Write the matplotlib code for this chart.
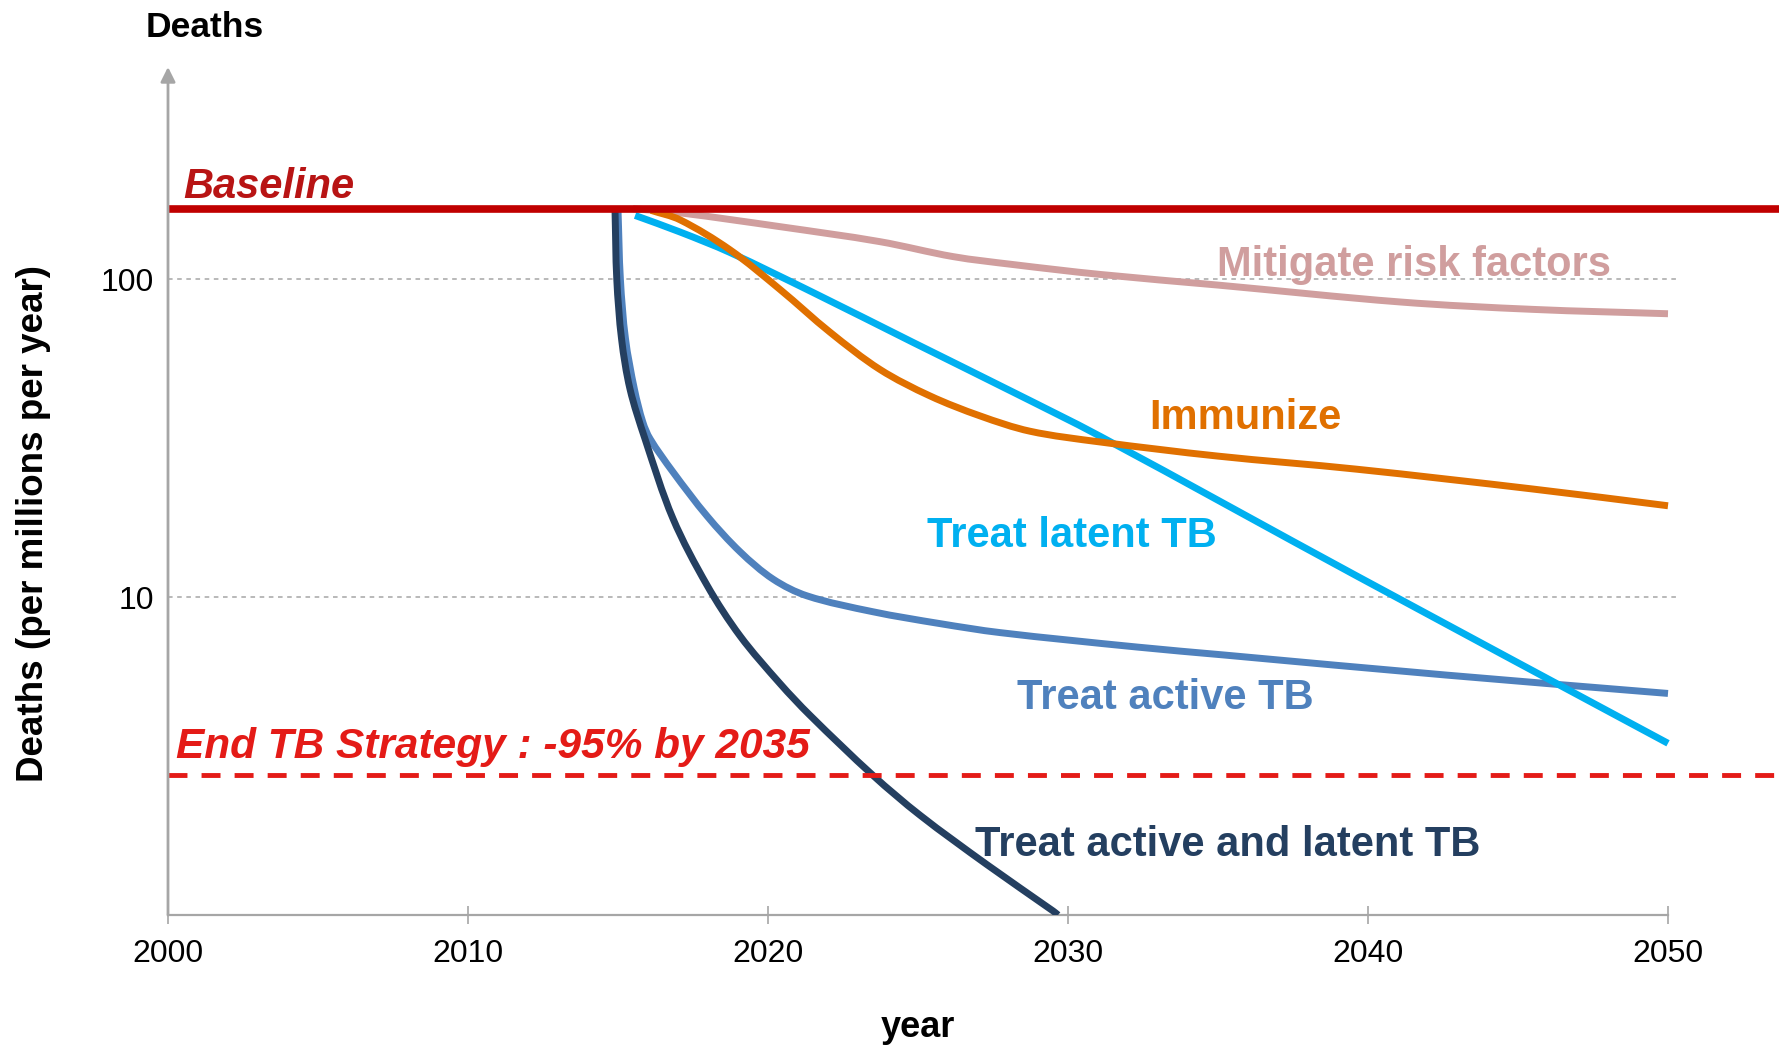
import numpy as np
import matplotlib.pyplot as plt
from matplotlib.path import Path
from matplotlib.patches import PathPatch

plt.rcParams['font.family'] = ['Liberation Sans', 'DejaVu Sans']

# values (year, deaths per million per year)
baseline_value = 167
target_value = 2.75

mitigate_years = [2015.5, 2017.07, 2020.4, 2023.73, 2026.17, 2028.17, 2031.07, 2035.0,
                  2041.1, 2045.5, 2050.0]
mitigate_vals = [167, 162, 146.6, 131.5, 118, 111.4, 103.7, 96, 84.9, 80.5, 78.0]

immunize_years = [2016.1, 2017.07, 2018.73, 2020.4, 2022.07, 2023.73, 2025.4, 2027.07,
                  2028.73, 2031.07, 2035.0, 2039.6, 2045.5, 2050.0]
immunize_vals = [165, 154, 124, 93, 68.2, 52.1, 43, 37.2,
                 33.3, 30.8, 27.8, 25.3, 21.9, 19.4]

latent_years = [2015.57, 2017.07, 2018.73, 2021.5, 2024.83, 2028.17, 2031.07, 2039.6, 2050.0]
latent_vals = [159, 141, 121.6, 91, 63.4, 44.2, 32.1, 11.7, 3.47]

active_years = [2015.0, 2015.08, 2015.25, 2015.55, 2015.83, 2016.07, 2016.83, 2017.97,
                2019.07, 2020.17, 2021.3, 2023.5, 2025.73, 2027.73, 2032.3, 2035.2,
                2042.6, 2050.0]
active_vals = [166, 100, 65, 45, 35.5, 31.5, 24.8, 18.0,
               13.9, 11.4, 10.1, 9.0, 8.26, 7.74, 6.97, 6.58,
               5.69, 4.98]

both_years = [2014.9, 2014.96, 2015.12, 2015.4, 2015.9, 2016.83, 2017.97, 2019.07,
              2020.4, 2021.4, 2023.5, 2025.07, 2027.3, 2029.5, 2029.67]
both_vals = [166, 100, 64.8, 45.2, 31.5, 17.7, 10.9, 7.55,
             5.35, 4.25, 2.75, 2.06, 1.44, 1.03, 1.0]

x_ticks = [2000, 2010, 2020, 2030, 2040, 2050]
y_ticks = [10, 100]

grey = '#A6A6A6'
c_base = '#C00000'
c_target = '#E41B17'
c_mitigate = '#D09E9E'
c_immunize = '#E07000'
c_latent = '#00B0F0'
c_active = '#4F81BD'
c_both = '#243F60'


def smooth_line(ax, xs, ys, color, lw, zorder):
    # smoothed line like the spreadsheet's, Bezier pieces through the read points
    # (built in year / log10 space, so the log axis maps it straight)
    p = np.column_stack([xs, np.log10(ys)])
    scale = np.array([30.0, 318.6])
    n = len(p)
    d = np.sqrt((((p[1:] - p[:-1]) * scale) ** 2).sum(axis=1))
    t = np.concatenate([[0], np.cumsum(d)])
    m = np.zeros_like(p)
    for i in range(n):
        a, b = max(i - 1, 0), min(i + 1, n - 1)
        m[i] = (p[b] - p[a]) / (t[b] - t[a])
    verts = [p[0]]
    codes = [Path.MOVETO]
    for i in range(n - 1):
        h = t[i + 1] - t[i]
        verts += [p[i] + m[i] * h / 3, p[i + 1] - m[i + 1] * h / 3, p[i + 1]]
        codes += [Path.CURVE4] * 3
    verts = np.array(verts)
    verts[:, 1] = 10 ** verts[:, 1]
    ax.add_patch(PathPatch(Path(verts, codes), fill=False, edgecolor=color,
                           lw=lw, zorder=zorder, capstyle='butt'))


W, H = 1784, 1046
fig = plt.figure(figsize=(W / 100, H / 100), dpi=100)
ax = fig.add_axes([168 / W, 1 - 915 / H, (W - 168) / W, (915 - 67) / H])
ax.set_yscale('log')
ax.set_xlim(2000, 2000 + (W - 168) / 30)
ax.set_ylim(1, 10 ** (2 + (280 - 67) / 318.6))

for v in y_ticks:
    ax.plot([2000, 2050.4], [v, v], color=grey, lw=1.1, dashes=(3, 3), zorder=1)

lw = 5
smooth_line(ax, mitigate_years, mitigate_vals, c_mitigate, lw, 2)
smooth_line(ax, active_years, active_vals, c_active, lw, 3)
smooth_line(ax, latent_years, latent_vals, c_latent, lw, 4)
smooth_line(ax, immunize_years, immunize_vals, c_immunize, lw, 5)
smooth_line(ax, both_years, both_vals, c_both, lw, 6)

ax.plot([2000, 2053.7], [baseline_value, baseline_value], color=c_base, lw=5.5,
        solid_capstyle='butt', zorder=8)
ax.plot([2000, 2053.7], [target_value, target_value], color=c_target, lw=3.5,
        dashes=(3.9, 2.9), dash_capstyle='butt', zorder=8)

# axes styling
for s in ['top', 'right', 'left']:
    ax.spines[s].set_visible(False)
ax.spines['bottom'].set_color(grey)
ax.spines['bottom'].set_linewidth(1.6)
ax.spines['bottom'].set_bounds(2000, 2050)
ax.annotate('', xy=(0, 1), xytext=(0, 0), xycoords='axes fraction',
            arrowprops=dict(arrowstyle='-|>', color=grey, lw=2, mutation_scale=22,
                            shrinkA=0, shrinkB=0), zorder=9)

ax.set_xticks(x_ticks)
ax.set_xticklabels([str(t) for t in x_ticks])
ax.set_yticks(y_ticks)
ax.set_yticklabels([str(t) for t in y_ticks])
ax.yaxis.set_minor_locator(plt.NullLocator())
ax.xaxis.set_minor_locator(plt.NullLocator())
ax.tick_params(axis='x', direction='inout', length=13, width=1.2, color=grey,
               labelsize=23, pad=11)
ax.tick_params(axis='y', length=0, labelsize=23, pad=10)

# curve labels
lab = dict(fontsize=30, fontweight='bold', ha='left', va='baseline', zorder=10)
ax.text(2000.5, 180.7, 'Baseline', color='#B81414', style='italic', **lab)
ax.text(2034.97, 102.9, 'Mitigate risk factors', color=c_mitigate, **lab)
ax.text(2032.7, 33.8, 'Immunize', color=c_immunize, **lab)
ax.text(2025.3, 14.4, 'Treat latent TB', color=c_latent, **lab)
ax.text(2028.3, 4.44, 'Treat active TB', color=c_active, **lab)
ax.text(2026.9, 1.534, 'Treat active and latent TB', color=c_both, **lab)
lab['fontsize'] = 30.5
ax.text(2000.27, 3.11, 'End TB Strategy : -95% by 2035', color=c_target,
        style='italic', **lab)

fig.text(205 / W, 1 - 37 / H, 'Deaths', fontsize=25.5, fontweight='bold',
         ha='center', va='baseline')
fig.text(34 / W, 1 - 524 / H, 'Deaths (per millions per year)', fontsize=26.5,
         fontweight='bold', rotation=90, ha='center', va='center')
fig.text(918 / W, 1 - 1037 / H, 'year', fontsize=26, fontweight='bold',
         ha='center', va='baseline')

fig.savefig('out.png', dpi=100)
